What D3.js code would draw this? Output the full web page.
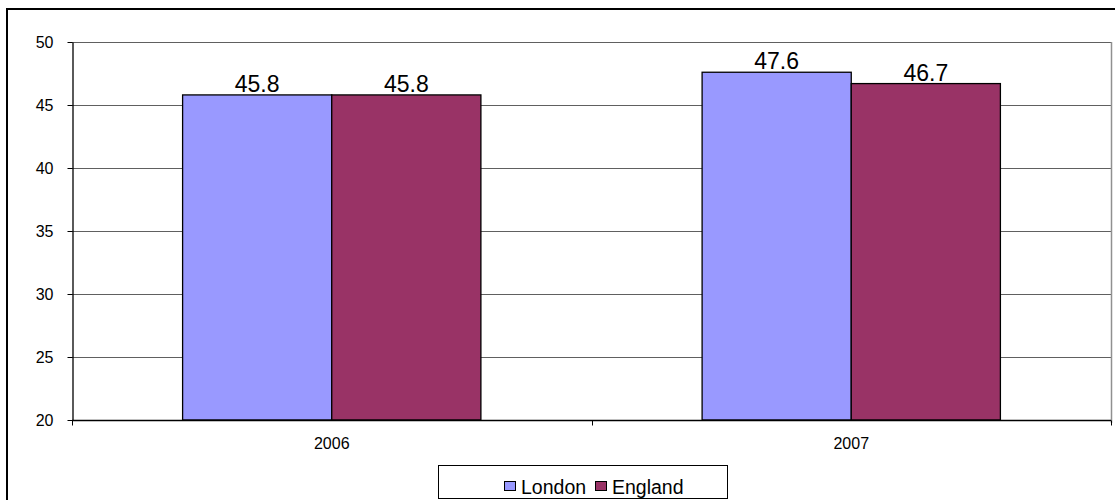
<!DOCTYPE html>
<meta charset="utf-8">
<script src="https://d3js.org/d3.v7.min.js"></script>
<style>
  body { margin: 0; background: #fff; }
  text { font-family: Arial, "Liberation Sans", sans-serif; }
</style>
<div id="my_dataviz"></div>
<script>
// data
var years = ["2006", "2007"];
var seriesNames = ["London", "England"];
var london = [45.8, 47.6];
var england = [45.8, 46.7];
var yTicks = [20, 25, 30, 35, 40, 45, 50];
var colors = ["#9999FF", "#993366"];

var W = 1115, H = 500;
var plot = {left: 72, top: 42, right: 1111, bottom: 420};

var svg = d3.select("#my_dataviz")
  .append("svg")
    .attr("width", W)
    .attr("height", H);

// outer chart border (runs off the picture on the right and bottom)
svg.append("rect")
  .attr("x", 7).attr("y", 9)
  .attr("width", 1200).attr("height", 600)
  .attr("fill", "none")
  .attr("stroke", "#000")
  .attr("stroke-width", 2);

var y = d3.scaleLinear()
  .domain([20, 50])
  .range([plot.bottom, plot.top]);

var x0 = d3.scaleBand()
  .domain(years)
  .range([plot.left, plot.right])
  .paddingInner(0.4258)
  .paddingOuter(0.2129);

var x1 = d3.scaleBand()
  .domain(seriesNames)
  .range([0, x0.bandwidth()]);

// gridlines
svg.append("g")
  .selectAll("line")
  .data(yTicks.slice(1))
  .enter().append("line")
    .attr("x1", plot.left).attr("x2", plot.right)
    .attr("y1", function(d) { return Math.round(y(d)) + 0.5; })
    .attr("y2", function(d) { return Math.round(y(d)) + 0.5; })
    .attr("stroke", "#606060");

// plot area right edge
svg.append("line")
  .attr("x1", plot.right + 0.5).attr("x2", plot.right + 0.5)
  .attr("y1", plot.top).attr("y2", plot.bottom + 3)
  .attr("stroke", "#909090")
  .attr("stroke-width", 1.5);

// bars
var rows = years.map(function(yr, i) {
  return {year: yr, values: [london[i], england[i]]};
});

var grp = svg.append("g")
  .selectAll("g")
  .data(rows)
  .enter().append("g")
    .attr("transform", function(d) { return "translate(" + x0(d.year) + ",0)"; });

grp.selectAll("rect")
  .data(function(d) { return d.values.map(function(v, j) { return {name: seriesNames[j], v: v, j: j}; }); })
  .enter().append("rect")
    .attr("x", function(d) { return x1(d.name); })
    .attr("y", function(d) { return y(d.v); })
    .attr("width", x1.bandwidth())
    .attr("height", function(d) { return y(20) - y(d.v); })
    .attr("fill", function(d) { return colors[d.j]; })
    .attr("stroke", "#000")
    .attr("stroke-width", 1.3);

grp.selectAll("text")
  .data(function(d) { return d.values.map(function(v, j) { return {name: seriesNames[j], v: v}; }); })
  .enter().append("text")
    .attr("x", function(d) { return x1(d.name) + x1.bandwidth() / 2; })
    .attr("y", function(d) { return y(d.v) - 3; })
    .attr("text-anchor", "middle")
    .style("font-size", "23px")
    .text(function(d) { return d.v.toFixed(1); });

// y axis
var yAxis = svg.append("g")
  .attr("transform", "translate(" + (plot.left + 0.5) + ",0)")
  .call(d3.axisLeft(y).tickValues(yTicks).tickSize(5).tickSizeOuter(0).tickPadding(14));
yAxis.select(".domain").attr("stroke", "#000").attr("stroke-width", 1.3);
yAxis.selectAll("text").style("font-size", "16px").attr("fill", "#000").style("font-family", "Arial, 'Liberation Sans', sans-serif");

// x axis with ticks at category boundaries
var xAxisG = svg.append("g")
  .attr("transform", "translate(0," + (plot.bottom + 0.5) + ")");
xAxisG.append("line")
  .attr("x1", plot.left).attr("x2", plot.right)
  .attr("stroke", "#000").attr("stroke-width", 1.5);
var bounds = [plot.left, (x0(years[0]) + x0.bandwidth() + x0(years[1])) / 2, plot.right];
xAxisG.selectAll(".tk")
  .data(bounds)
  .enter().append("line")
    .attr("x1", function(d) { return Math.round(d) + 0.5; })
    .attr("x2", function(d) { return Math.round(d) + 0.5; })
    .attr("y1", 0).attr("y2", 5)
    .attr("stroke", "#000");
xAxisG.selectAll(".lbl")
  .data(years)
  .enter().append("text")
    .attr("x", function(d) { return x0(d) + x0.bandwidth() / 2; })
    .attr("y", 28)
    .attr("text-anchor", "middle")
    .style("font-size", "16px")
    .text(function(d) { return d; });

// legend
var leg = svg.append("g");
leg.append("rect")
  .attr("x", 438.5).attr("y", 465.5)
  .attr("width", 289).attr("height", 33)
  .attr("fill", "#fff")
  .attr("stroke", "#000");
var legItems = [{name: seriesNames[0], x: 504}, {name: seriesNames[1], x: 595}];
legItems.forEach(function(it, i) {
  leg.append("rect")
    .attr("x", it.x + 0.5).attr("y", 481.5)
    .attr("width", 11).attr("height", 9)
    .attr("fill", colors[i])
    .attr("stroke", "#000");
  leg.append("text")
    .attr("x", it.x + 17)
    .attr("y", 494)
    .style("font-size", "19.5px")
    .text(it.name);
});
</script>
